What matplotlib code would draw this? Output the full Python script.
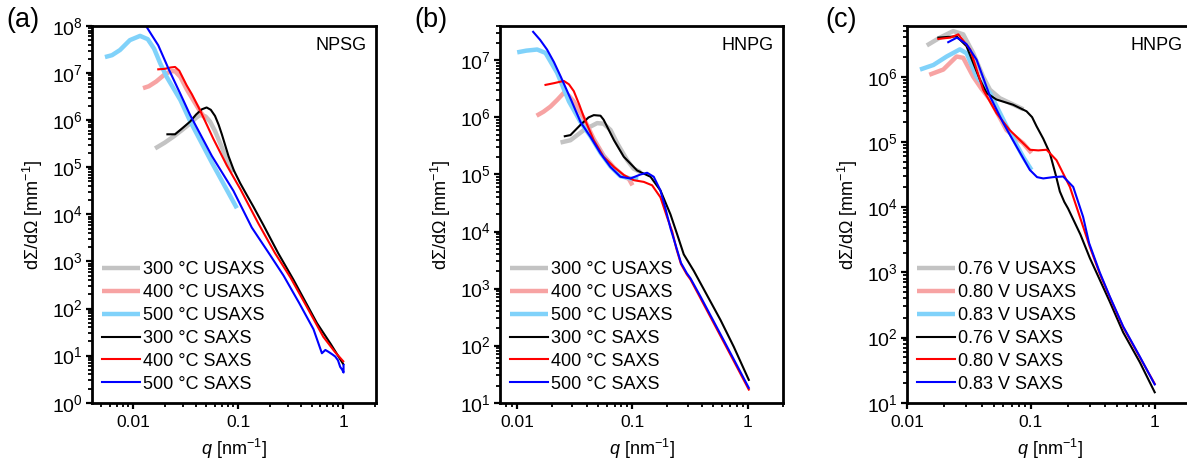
"""Three-panel USAXS/SAXS scattering curves (NPSG / HNPG), log-log."""
import numpy as np
import matplotlib
matplotlib.use("Agg")
import matplotlib.pyplot as plt
from matplotlib.ticker import LogLocator, LogFormatterSciNotation, FixedLocator, FixedFormatter, NullFormatter

plt.rcParams["font.family"] = ["Liberation Sans", "DejaVu Sans"]
plt.rcParams["mathtext.fontset"] = "custom"
plt.rcParams["mathtext.rm"] = "Liberation Sans"
plt.rcParams["mathtext.it"] = "Liberation Sans:italic"

# data as (log10 q [nm^-1], log10 dSigma/dOmega [mm^-1])
# ---- (a) NPSG, annealing temperature
a_300_usaxs = [(-1.79, 5.40), (-1.70, 5.52), (-1.616, 5.65), (-1.54, 5.78), (-1.457, 5.93),
               (-1.40, 6.05), (-1.362, 6.11), (-1.31, 6.08), (-1.267, 5.97), (-1.22, 5.77),
               (-1.171, 5.51), (-1.092, 5.08), (-1.045, 4.90)]
a_400_usaxs = [(-1.905, 6.68), (-1.85, 6.72), (-1.78, 6.82), (-1.70, 6.97), (-1.64, 7.04),
               (-1.60, 7.04), (-1.55, 6.92), (-1.49, 6.66), (-1.42, 6.40), (-1.36, 6.18),
               (-1.31, 6.03)]
a_500_usaxs = [(-2.267, 7.34), (-2.20, 7.38), (-2.124, 7.49), (-2.03, 7.70), (-1.933, 7.79),
               (-1.86, 7.72), (-1.80, 7.52), (-1.74, 7.20), (-1.68, 6.92), (-1.55, 6.43),
               (-1.457, 5.98), (-1.25, 5.10), (-1.012, 4.13)]
a_300_saxs = [(-1.673, 5.70), (-1.60, 5.70), (-1.53, 5.83), (-1.457, 5.97), (-1.40, 6.12),
              (-1.346, 6.23), (-1.30, 6.27), (-1.26, 6.22), (-1.22, 6.09), (-1.185, 5.90),
              (-1.155, 5.70), (-1.092, 5.24), (-1.04, 4.93), (-0.98, 4.66), (-0.92, 4.42),
              (-0.854, 4.16), (-0.759, 3.77), (-0.62, 3.18), (-0.473, 2.61), (-0.25, 1.69),
              (-0.12, 1.25), (0.0, 0.82)]
a_400_saxs = [(-1.76, 7.08), (-1.70, 7.09), (-1.64, 7.12), (-1.60, 7.13), (-1.56, 7.05),
              (-1.49, 6.74), (-1.44, 6.55), (-1.36, 6.20), (-1.235, 5.60), (-1.108, 5.04),
              (-0.98, 4.54), (-0.806, 3.80), (-0.65, 3.18), (-0.50, 2.65), (-0.35, 2.05),
              (-0.19, 1.40), (-0.08, 1.08), (0.0, 0.88)]
a_500_saxs = [(-1.91, 8.15), (-1.876, 8.00), (-1.82, 7.80), (-1.76, 7.59), (-1.66, 7.08),
              (-1.552, 6.57), (-1.457, 6.11), (-1.25, 5.24), (-1.045, 4.50), (-0.87, 3.72),
              (-0.70, 3.15), (-0.568, 2.70), (-0.42, 2.12), (-0.283, 1.56), (-0.203, 1.05),
              (-0.17, 1.12), (-0.14, 1.08), (-0.10, 1.02), (-0.076, 0.98), (-0.05, 0.90),
              (-0.029, 0.76), (-0.01, 0.70), (0.003, 0.64), (0.003, 0.80)]

# ---- (b) HNPG, annealing temperature
b_300_usaxs = [(-1.623, 5.56), (-1.537, 5.60), (-1.42, 5.78), (-1.306, 5.90), (-1.25, 5.89),
               (-1.19, 5.78), (-1.133, 5.55), (-1.046, 5.25), (-0.989, 5.10), (-0.93, 5.04)]
b_400_usaxs = [(-1.83, 6.03), (-1.77, 6.10), (-1.71, 6.19), (-1.65, 6.31), (-1.595, 6.43),
               (-1.55, 6.38), (-1.508, 6.28), (-1.42, 5.98), (-1.335, 5.62), (-1.25, 5.33),
               (-1.16, 5.12), (-1.075, 4.97), (-1.03, 4.92), (-1.0, 4.81)]
b_500_usaxs = [(-1.998, 7.14), (-1.92, 7.17), (-1.825, 7.19), (-1.753, 7.13), (-1.652, 6.78),
               (-1.55, 6.28), (-1.45, 5.92), (-1.364, 5.67), (-1.277, 5.38), (-1.19, 5.14),
               (-1.104, 4.97), (-1.017, 4.93), (-0.95, 4.92)]
b_300_saxs = [(-1.586, 5.67), (-1.537, 5.69), (-1.45, 5.87), (-1.38, 6.00), (-1.335, 6.04),
              (-1.277, 6.03), (-1.25, 5.96), (-1.16, 5.60), (-1.075, 5.31), (-0.96, 5.07),
              (-0.844, 4.96), (-0.758, 4.72), (-0.671, 4.30), (-0.613, 3.95), (-0.556, 3.60),
              (-0.469, 3.31), (-0.238, 2.45), (-0.123, 1.98), (0.007, 1.40)]
b_400_saxs = [(-1.753, 6.57), (-1.68, 6.60), (-1.595, 6.64), (-1.55, 6.58), (-1.508, 6.46),
              (-1.46, 6.22), (-1.42, 6.00), (-1.335, 5.60), (-1.25, 5.31), (-1.16, 5.13),
              (-1.075, 4.99), (-0.989, 4.90), (-0.902, 4.87), (-0.83, 4.81), (-0.758, 4.60),
              (-0.70, 4.25), (-0.656, 4.00), (-0.62, 3.70), (-0.58, 3.43), (-0.53, 3.25),
              (-0.498, 3.16), (-0.411, 2.83), (-0.238, 2.17), (-0.123, 1.73), (0.007, 1.23)]
b_500_saxs = [(-1.86, 7.50), (-1.80, 7.36), (-1.74, 7.19), (-1.68, 6.97), (-1.62, 6.71),
              (-1.53, 6.30), (-1.45, 5.92), (-1.364, 5.66), (-1.277, 5.37), (-1.19, 5.13),
              (-1.104, 4.96), (-1.017, 4.93), (-0.93, 5.00), (-0.873, 5.03), (-0.816, 4.96),
              (-0.758, 4.72), (-0.714, 4.40), (-0.67, 4.05), (-0.62, 3.72), (-0.58, 3.45),
              (-0.53, 3.27), (-0.498, 3.18), (-0.411, 2.86), (-0.238, 2.20), (-0.123, 1.76),
              (0.007, 1.26)]

# ---- (c) HNPG, dealloying potential
c_076_usaxs = [(-1.84, 6.48), (-1.734, 6.60), (-1.627, 6.70), (-1.546, 6.65), (-1.465, 6.36),
               (-1.385, 6.00), (-1.33, 5.80), (-1.25, 5.67), (-1.15, 5.58), (-1.06, 5.50)]
c_080_usaxs = [(-1.82, 6.03), (-1.707, 6.11), (-1.60, 6.31), (-1.546, 6.29), (-1.465, 6.00),
               (-1.40, 5.82), (-1.33, 5.65), (-1.196, 5.18), (-1.062, 4.98), (-0.995, 4.83)]
c_083_usaxs = [(-1.895, 6.11), (-1.787, 6.18), (-1.68, 6.31), (-1.573, 6.42), (-1.519, 6.36),
               (-1.438, 6.00), (-1.33, 5.75), (-1.196, 5.24), (-1.062, 4.77), (-0.995, 4.57)]
c_076_saxs = [(-1.747, 6.60), (-1.60, 6.62), (-1.52, 6.47), (-1.465, 6.21), (-1.41, 5.95),
              (-1.357, 5.75), (-1.277, 5.65), (-1.143, 5.57), (-1.035, 5.47), (-0.99, 5.38),
              (-0.954, 5.24), (-0.90, 5.05), (-0.847, 4.83), (-0.80, 4.50), (-0.766, 4.24),
              (-0.73, 4.08), (-0.70, 3.98), (-0.60, 3.58), (-0.524, 3.22), (-0.363, 2.55),
              (-0.255, 2.08), (-0.12, 1.62), (0.0, 1.16)]
c_080_saxs = [(-1.747, 6.58), (-1.65, 6.60), (-1.586, 6.65), (-1.49, 6.42), (-1.385, 5.80),
              (-1.277, 5.44), (-1.17, 5.18), (-1.062, 4.98), (-1.008, 4.88), (-0.94, 4.87),
              (-0.873, 4.88), (-0.793, 4.72), (-0.685, 4.31), (-0.578, 3.70), (-0.524, 3.39),
              (-0.444, 2.98), (-0.363, 2.62), (-0.255, 2.16), (-0.121, 1.70), (0.0, 1.29)]
c_083_saxs = [(-1.667, 6.53), (-1.597, 6.60), (-1.52, 6.50), (-1.438, 6.26), (-1.33, 5.70),
              (-1.223, 5.29), (-1.116, 4.93), (-1.008, 4.57), (-0.95, 4.46), (-0.90, 4.44),
              (-0.82, 4.46), (-0.739, 4.47), (-0.658, 4.31), (-0.578, 3.85), (-0.53, 3.45),
              (-0.444, 3.00), (-0.363, 2.63), (-0.255, 2.17), (-0.121, 1.71), (0.0, 1.28)]

temp_labels = ["300 °C", "400 °C", "500 °C"]
volt_labels = ["0.76 V", "0.80 V", "0.83 V"]
panel_tags = ["(a)", "(b)", "(c)"]
sample_names = ["NPSG", "HNPG", "HNPG"]

USAXS_COLORS = ["#c3c3c3", "#f7a3a3", "#80d2fa"]
SAXS_COLORS = ["#000000", "#ff0000", "#0000ff"]

FS = 13


def _xy(pts):
    arr = np.asarray(pts, dtype=float)
    return 10 ** arr[:, 0], 10 ** arr[:, 1]


def draw_panel(ax, usaxs, saxs, labels, name):
    for pts, col, lab in zip(usaxs, USAXS_COLORS, labels):
        q, i = _xy(pts)
        ax.plot(q, i, color=col, lw=3.2, solid_capstyle="butt", label=f"{lab} USAXS")
    for pts, col, lab in zip(saxs, SAXS_COLORS, labels):
        q, i = _xy(pts)
        ax.plot(q, i, color=col, lw=1.5, label=f"{lab} SAXS")
    ax.set_xscale("log")
    ax.set_yscale("log")

    ax.yaxis.set_major_locator(LogLocator(base=10, numticks=20))
    ax.yaxis.set_minor_locator(LogLocator(base=10, subs=np.arange(2, 10), numticks=20))
    ax.yaxis.set_major_formatter(LogFormatterSciNotation())
    ax.yaxis.set_minor_formatter(NullFormatter())
    ax.xaxis.set_major_locator(FixedLocator([0.01, 0.1, 1]))
    ax.xaxis.set_major_formatter(FixedFormatter(["0.01", "0.1", "1"]))
    ax.xaxis.set_minor_locator(LogLocator(base=10, subs=np.arange(2, 10), numticks=20))
    ax.xaxis.set_minor_formatter(NullFormatter())

    ax.tick_params(which="major", direction="out", length=4.5, width=1.6,
                   top=False, right=False, pad=2)
    ax.tick_params(axis="y", which="major", labelsize=14)
    ax.tick_params(axis="x", which="major", labelsize=12.5, pad=4)
    ax.tick_params(which="minor", direction="out", length=2.8, width=1.3,
                   top=False, right=False)
    for sp in ax.spines.values():
        sp.set_linewidth(2.0)

    ax.set_xlabel(r"$q$ [nm$^{-1}$]", fontsize=FS, labelpad=5)
    ax.set_ylabel(r"dΣ/dΩ [mm$^{-1}$]", fontsize=FS, labelpad=5)
    ax.text(0.968, 0.972, name, transform=ax.transAxes, ha="right", va="top", fontsize=FS)
    ax.legend(loc="lower left", frameon=False, fontsize=FS, handlelength=2.1,
              handletextpad=0.15, labelspacing=0.33, borderpad=0.2, borderaxespad=0.35)


fig = plt.figure(figsize=(11.87, 4.65), dpi=100)
W, H = 1187.0, 465.0
boxes = [(92, 284), (500, 283), (907, 285)]
xlims = [(0.00407, 2.05), (0.00713, 2.01), (0.01, 2.0)]
ylims = [(1, 1e8), (10, 4e7), (10, 6e6)]
tag_xs = [6, 414, 825]
series = [
    ([a_300_usaxs, a_400_usaxs, a_500_usaxs], [a_300_saxs, a_400_saxs, a_500_saxs], temp_labels),
    ([b_300_usaxs, b_400_usaxs, b_500_usaxs], [b_300_saxs, b_400_saxs, b_500_saxs], temp_labels),
    ([c_076_usaxs, c_080_usaxs, c_083_usaxs], [c_076_saxs, c_080_saxs, c_083_saxs], volt_labels),
]

for k, ((left, width), xl, yl, (us, sx, labs)) in enumerate(zip(boxes, xlims, ylims, series)):
    ax = fig.add_axes([left / W, (H - 402.7) / H, width / W, 376.7 / H])
    draw_panel(ax, us, sx, labs, sample_names[k])
    ax.set_xlim(*xl)
    ax.set_ylim(*yl)
    fig.text(tag_xs[k] / W, 1 - 7 / H, panel_tags[k], ha="left", va="top", fontsize=19.5)

fig.savefig("out.png", dpi=100)
